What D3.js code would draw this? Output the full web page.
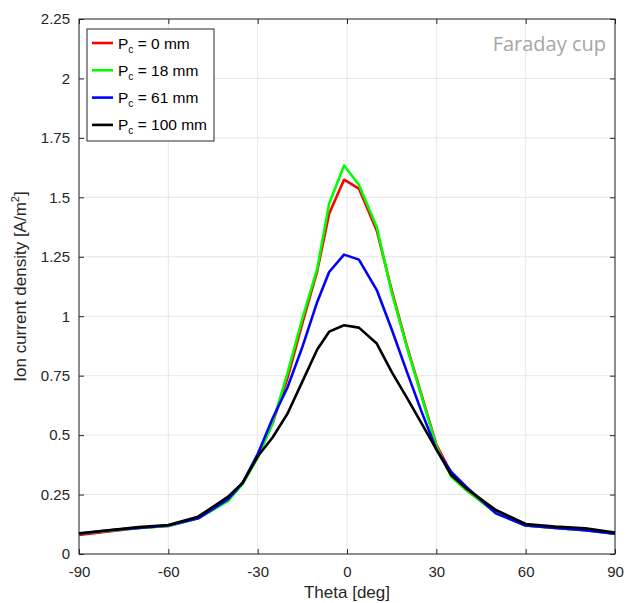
<!DOCTYPE html>
<html><head><meta charset="utf-8">
<script src="https://cdn.jsdelivr.net/npm/d3@7"></script>
<style>body{margin:0;background:#fff;} svg{display:block;}</style>
</head><body>
<svg id="chart" width="626" height="603"></svg>
<script>
const theta = [-90,-80,-70,-60,-50,-40,-35,-30,-25,-20,-15,-10,-6,-1,4,10,15,20,25,30,35,40,50,60,70,80,90];
const pc0   = [0.080,0.095,0.110,0.118,0.150,0.225,0.300,0.410,0.550,0.740,0.970,1.190,1.431,1.574,1.537,1.360,1.110,0.880,0.670,0.460,0.340,0.270,0.175,0.120,0.110,0.100,0.085];
const pc18  = [0.085,0.098,0.110,0.118,0.150,0.222,0.295,0.405,0.550,0.760,0.990,1.200,1.473,1.634,1.553,1.375,1.100,0.874,0.664,0.454,0.325,0.269,0.172,0.120,0.110,0.100,0.085];
const pc61  = [0.085,0.100,0.110,0.120,0.150,0.230,0.300,0.420,0.570,0.700,0.870,1.060,1.186,1.259,1.238,1.110,0.945,0.770,0.600,0.440,0.345,0.283,0.171,0.120,0.110,0.100,0.085];
const pc100 = [0.087,0.100,0.113,0.122,0.157,0.240,0.300,0.410,0.490,0.590,0.725,0.860,0.935,0.962,0.952,0.885,0.766,0.660,0.550,0.440,0.332,0.276,0.185,0.126,0.115,0.108,0.090];
const seriesNames = ["0","18","61","100"];
const seriesColors = ["#ff0000","#00ff00","#0000ff","#000000"];
const xTicks = [-90,-60,-30,0,30,60,90];
const yTicks = [0,0.25,0.5,0.75,1,1.25,1.5,1.75,2,2.25];

const series = [pc0, pc18, pc61, pc100];
const svg = d3.select("#chart");
const L = 79, R = 615, T = 19, B = 554;
const x = d3.scaleLinear().domain([-90,90]).range([L,R]);
const y = d3.scaleLinear().domain([0,2.25]).range([B,T]);
const font = "'Liberation Sans', Arial, sans-serif";
const axisCol = "#262626";

// grid
const g = svg.append("g");
g.selectAll("line.vg").data(xTicks).enter().append("line")
  .attr("x1", d=>x(d)).attr("x2", d=>x(d)).attr("y1", T).attr("y2", B)
  .attr("stroke", "#e6e6e6").attr("stroke-width", 1);
g.selectAll("line.hg").data(yTicks).enter().append("line")
  .attr("y1", d=>y(d)).attr("y2", d=>y(d)).attr("x1", L).attr("x2", R)
  .attr("stroke", "#e6e6e6").attr("stroke-width", 1);

// axes
const xAxis = d3.axisBottom(x).tickValues(xTicks).tickSize(-5).tickPadding(12).tickFormat(d=>String(d));
const xa = svg.append("g").attr("transform", `translate(0,${B})`).call(xAxis);
const yAxis = d3.axisLeft(y).tickValues(yTicks).tickSize(-5).tickPadding(9).tickFormat(d=>String(d));
const ya = svg.append("g").attr("transform", `translate(${L},0)`).call(yAxis);
[xa, ya].forEach(a => {
  a.select(".domain").remove();
  a.selectAll("line").attr("stroke", axisCol);
  a.selectAll("text").attr("fill", axisCol).style("font-family", font).style("font-size", "15px");
});
// top/right ticks
svg.append("g").attr("transform", `translate(0,${T})`).call(d3.axisTop(x).tickValues(xTicks).tickSize(-5).tickFormat(""))
  .call(a=>{a.select(".domain").remove(); a.selectAll("line").attr("stroke", axisCol);});
svg.append("g").attr("transform", `translate(${R},0)`).call(d3.axisRight(y).tickValues(yTicks).tickSize(-5).tickFormat(""))
  .call(a=>{a.select(".domain").remove(); a.selectAll("line").attr("stroke", axisCol);});

// box
svg.append("rect").attr("x", L).attr("y", T).attr("width", R-L).attr("height", B-T)
  .attr("fill", "none").attr("stroke", axisCol).attr("stroke-width", 1);

// lines
const line = d3.line().x((d,i)=>x(theta[i])).y(d=>y(d));
series.forEach((s,k) => {
  svg.append("path").datum(s).attr("d", line).attr("fill", "none")
    .attr("stroke", seriesColors[k]).attr("stroke-width", 2.6).attr("stroke-linejoin", "round");
});

// labels
svg.append("text").attr("x", x(0)).attr("y", 598).attr("text-anchor", "middle")
  .attr("fill", axisCol).style("font-family", font).style("font-size", "17px").text("Theta [deg]");
const yl = svg.append("text").attr("transform", `translate(26,${(T+B)/2}) rotate(-90)`).attr("text-anchor", "middle")
  .attr("fill", axisCol).style("font-family", font).style("font-size", "17px");
yl.append("tspan").text("Ion current density [A/m");
yl.append("tspan").attr("dy", -7).style("font-size", "11px").text("2");
yl.append("tspan").attr("dy", 7).text("]");

// legend
const lg = svg.append("g");
lg.append("rect").attr("x", 87).attr("y", 29).attr("width", 127).attr("height", 112)
  .attr("fill", "#fff").attr("stroke", axisCol).attr("stroke-width", 1);
seriesNames.forEach((n,k) => {
  const yy = 43 + k*27.3;
  lg.append("line").attr("x1", 92).attr("x2", 113).attr("y1", yy).attr("y2", yy)
    .attr("stroke", seriesColors[k]).attr("stroke-width", 2.6);
  const t = lg.append("text").attr("x", 118).attr("y", yy+5.5).attr("fill", "#000")
    .style("font-family", font).style("font-size", "15.5px");
  t.append("tspan").text("P");
  t.append("tspan").attr("dy", 4).style("font-size", "10px").text("c");
  t.append("tspan").attr("dy", -4).text(" = " + n + " mm");
});

// annotation
svg.append("text").attr("x", 606).attr("y", 51).attr("text-anchor", "end").attr("fill", "#a6a6a6")
  .style("font-family", "'Open Sans', sans-serif").style("font-size", "20px").text("Faraday cup");
</script>
</body></html>
